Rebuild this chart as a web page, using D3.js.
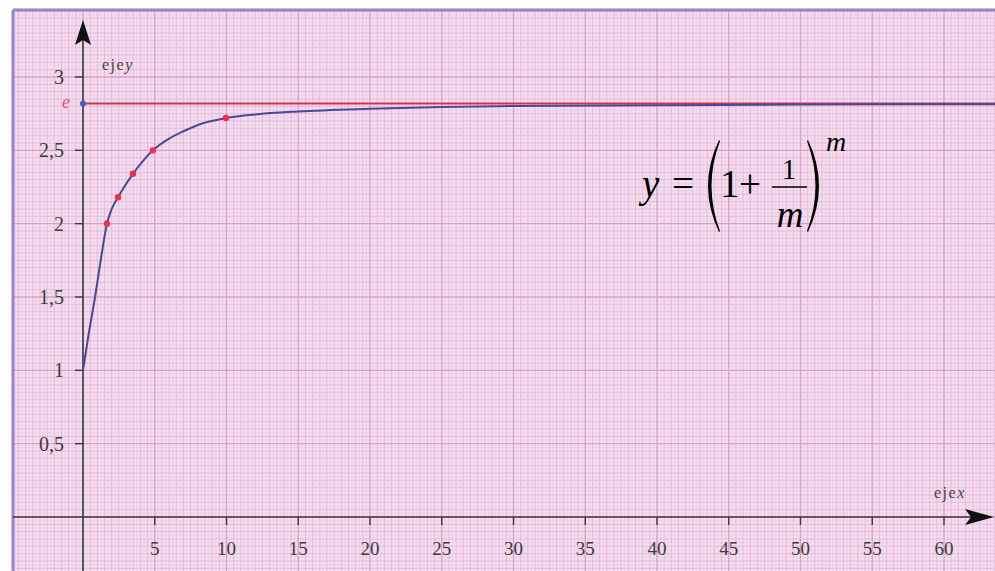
<!DOCTYPE html>
<html><head><meta charset="utf-8">
<script src="https://cdn.jsdelivr.net/npm/d3@7/dist/d3.min.js"></script>
<style>html,body{margin:0;padding:0;background:#fff;}svg{display:block;}
text{font-family:"Liberation Serif","DejaVu Serif",Times,serif;}</style>
</head><body>
<svg id="c" width="995" height="571"></svg>
<script>
// ---- data ----
const xTicks = [5,10,15,20,25,30,35,40,45,50,55,60];
const yTicks = [0.5,1,1.5,2,2.5,3];
const yTickLabels = ["0,5","1","1,5","2","2,5","3"];
const curveM = [0, 0.4, 0.84, 1.25, 1.67, 2.0, 2.44, 3.0, 3.48, 4.2, 4.87, 6.0, 7.0, 8.2, 9.96, 12, 15, 20, 25, 30, 40, 50, 64];
const curveY = [1, 1.25, 1.5, 1.76, 2.0, 2.1, 2.18, 2.27, 2.34, 2.43, 2.5, 2.58, 2.63, 2.68, 2.72, 2.745, 2.765, 2.783, 2.795, 2.802, 2.808, 2.812, 2.815];
const pointM = [1.67, 2.44, 3.48, 4.87, 9.96];
const pointY = [2.0, 2.18, 2.34, 2.5, 2.72];
const eLine = 2.82;

const svg = d3.select("#c");
const W = 995, H = 571;
const x = d3.scaleLinear().domain([0,60]).range([83,944]);
const y = d3.scaleLinear().domain([0,3]).range([517,77]);
const leftX = 13, topY = 10;
const serif = '"Liberation Serif","DejaVu Serif",Times,serif';

// background
svg.append("rect").attr("x",leftX).attr("y",topY).attr("width",W-leftX+5).attr("height",H-topY+5).attr("fill","#f7ddf0");

const g = svg.append("g");
const xMin = x.invert(leftX), xMax = x.invert(W);
const yMax = y.invert(topY), yMin = y.invert(H);

// fine grid
d3.range(Math.ceil(xMin*4), Math.floor(xMax*4)+1).forEach(i=>{
  if (i%2===0) return;
  g.append("line").attr("x1",x(i/4)).attr("x2",x(i/4)).attr("y1",topY).attr("y2",H).attr("stroke","#eed0e8").attr("stroke-width",1);
});
d3.range(Math.ceil(yMin*40), Math.floor(yMax*40)+1).forEach(i=>{
  if (i%2===0) return;
  g.append("line").attr("y1",y(i/40)).attr("y2",y(i/40)).attr("x1",leftX).attr("x2",W).attr("stroke","#eed0e8").attr("stroke-width",1);
});
// minor grid
d3.range(Math.ceil(xMin*2), Math.floor(xMax*2)+1).forEach(i=>{
  if (i%10===0) return;
  g.append("line").attr("x1",x(i/2)).attr("x2",x(i/2)).attr("y1",topY).attr("y2",H).attr("stroke","#dfbddb").attr("stroke-width",1);
});
d3.range(Math.ceil(yMin*20), Math.floor(yMax*20)+1).forEach(i=>{
  if (i%10===0) return;
  g.append("line").attr("y1",y(i/20)).attr("y2",y(i/20)).attr("x1",leftX).attr("x2",W).attr("stroke","#dfbddb").attr("stroke-width",1);
});
// major grid
d3.range(Math.ceil(xMin/5), Math.floor(xMax/5)+1).forEach(i=>{
  g.append("line").attr("x1",x(i*5)).attr("x2",x(i*5)).attr("y1",topY).attr("y2",H).attr("stroke","#d7a0c6").attr("stroke-width",1.3);
});
d3.range(Math.ceil(yMin*2), Math.floor(yMax*2)+1).forEach(i=>{
  g.append("line").attr("y1",y(i/2)).attr("y2",y(i/2)).attr("x1",leftX).attr("x2",W).attr("stroke","#d7a0c6").attr("stroke-width",1.3);
});

// border
svg.append("line").attr("x1",leftX).attr("x2",W).attr("y1",topY).attr("y2",topY).attr("stroke","#9484c8").attr("stroke-width",3);
svg.append("line").attr("x1",leftX).attr("x2",leftX).attr("y1",topY).attr("y2",H).attr("stroke","#9484c8").attr("stroke-width",3);

const axisCol = "#3a3a3a";
// axes
svg.append("line").attr("x1",leftX).attr("x2",985).attr("y1",y(0)).attr("y2",y(0)).attr("stroke",axisCol).attr("stroke-width",1.6);
svg.append("line").attr("x1",x(0)).attr("x2",x(0)).attr("y1",H).attr("y2",32).attr("stroke",axisCol).attr("stroke-width",1.6);
// arrowheads
const x0 = x(0), y0 = y(0);
svg.append("path").attr("d",`M${x0},20 L${x0+8},45 L${x0},40 L${x0-8},45 Z`).attr("fill","#111");
svg.append("path").attr("d",`M994,${y0} L965,${y0-8} L971,${y0} L965,${y0+8} Z`).attr("fill","#111");

// x ticks
xTicks.forEach(t=>{
  svg.append("line").attr("x1",x(t)).attr("x2",x(t)).attr("y1",y0).attr("y2",y0+8).attr("stroke",axisCol).attr("stroke-width",1.4);
  svg.append("text").attr("x",x(t)).attr("y",555).attr("text-anchor","middle")
    .style("font-family",serif).attr("font-size",19).attr("fill","#3c3c3c").text(t);
});
// y ticks
yTicks.forEach((t,i)=>{
  svg.append("line").attr("x1",x0-8).attr("x2",x0).attr("y1",y(t)).attr("y2",y(t)).attr("stroke",axisCol).attr("stroke-width",1.4);
  svg.append("text").attr("x",64).attr("y",y(t)+7).attr("text-anchor","end")
    .style("font-family",serif).attr("font-size",20).attr("fill","#3c3c3c").text(yTickLabels[i]);
});

// axis names
const ty = svg.append("text").attr("x",102).attr("y",70).style("font-family",serif).attr("font-size",16).attr("letter-spacing",1.5).attr("fill","#444");
ty.append("tspan").text("eje");
ty.append("tspan").attr("font-style","italic").text("y");
const tx = svg.append("text").attr("x",934).attr("y",498).style("font-family",serif).attr("font-size",16).attr("letter-spacing",1.5).attr("fill","#444");
tx.append("tspan").text("eje");
tx.append("tspan").attr("font-style","italic").text("x");

// e line
svg.append("line").attr("x1",x0).attr("x2",W).attr("y1",y(eLine)).attr("y2",y(eLine)).attr("stroke","#d8344e").attr("stroke-width",2);
svg.append("text").attr("x",62).attr("y",y(eLine)+5).style("font-family",serif).attr("font-style","italic").attr("font-size",18).attr("fill","#e0506a").text("e");
svg.append("circle").attr("cx",x0).attr("cy",y(eLine)).attr("r",3).attr("fill","#4a5ac4");

// curve
const line = d3.line().x((d,i)=>x(d)).y((d,i)=>y(curveY[i])).curve(d3.curveMonotoneX);
svg.append("path").attr("d",line(curveM)).attr("fill","none").attr("stroke","#4b4794").attr("stroke-width",2);

// points
pointM.forEach((m,i)=>{
  svg.append("circle").attr("cx",x(m)).attr("cy",y(pointY[i])).attr("r",3.2).attr("fill","#e8334f");
});

// formula
const f = svg.append("g").attr("fill","#000");
const ft = (xx,yy,size,txt,it,anchor)=>f.append("text").attr("x",xx).attr("y",yy).attr("font-size",size)
  .attr("font-style",it?"italic":"normal").attr("text-anchor",anchor||"start").style("font-family",serif).text(txt);
ft(642,197,39,"y",true);
ft(672,197,39,"=",false);
f.append("path").attr("d","M719,140 Q697,186 719,232 L720,231 Q703,186 720,141 Z").attr("fill","#000");
ft(720,197,39,"1",false);
ft(739,197,39,"+",false);
f.append("line").attr("x1",772).attr("x2",807).attr("y1",187).attr("y2",187).attr("stroke","#000").attr("stroke-width",1.6);
ft(789,179,29,"1",false,"middle");
ft(790,227,37,"m",true,"middle");
f.append("path").attr("d","M808,140 Q830,186 808,232 L807,231 Q824,186 807,141 Z").attr("fill","#000");
ft(826,151,28,"m",true);
</script>
</body></html>
